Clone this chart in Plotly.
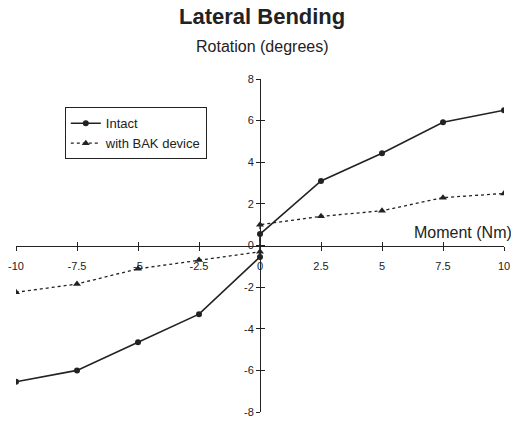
import plotly.graph_objects as go

moment = [-10, -7.5, -5, -2.5, 0, 0, 2.5, 5, 7.5, 10]
intact = [-6.55, -6.0, -4.65, -3.3, -0.55, 0.55, 3.1, 4.43, 5.92, 6.5]
bak = [-2.25, -1.85, -1.12, -0.7, -0.3, 1.0, 1.4, 1.67, 2.3, 2.5]
x_ticks = [-10, -7.5, -5, -2.5, 0, 2.5, 5, 7.5, 10]
y_ticks = [-8, -6, -4, -2, 0, 2, 4, 6, 8]

FONT = "Liberation Sans, Arial, Helvetica, sans-serif"
INK = "#222222"

fig = go.Figure()
fig.add_trace(go.Scatter(
    x=moment, y=intact, name="Intact", mode="lines+markers",
    line=dict(color=INK, width=1.6),
    marker=dict(symbol="circle", size=6, color=INK),
))
fig.add_trace(go.Scatter(
    x=moment, y=bak, name="with BAK device", mode="lines+markers",
    line=dict(color=INK, width=1.3, dash="3px,3px"),
    marker=dict(symbol="triangle-up", size=7, color=INK),
))
# invisible trace to host the inside ticks on the secondary axes
fig.add_trace(go.Scatter(x=[0], y=[0], xaxis="x2", yaxis="y2",
                         mode="markers", marker=dict(opacity=0),
                         showlegend=False, hoverinfo="skip"))

axis_common = dict(showgrid=False, zeroline=False, showline=True,
                   linecolor=INK, linewidth=1, ticks="outside", ticklen=4,
                   tickwidth=1, tickcolor=INK, automargin=False,
                   tickfont=dict(family=FONT, size=11, color=INK))

fig.update_layout(
    width=511, height=423,
    margin=dict(l=16, r=7, t=79, b=11, autoexpand=False),
    paper_bgcolor="white", plot_bgcolor="white",
    font=dict(family=FONT, color=INK),
    xaxis=dict(range=[-10, 10], tickvals=x_ticks,
               ticktext=[f"{v:g}" for v in x_ticks],
               anchor="free", position=0.5, domain=[0, 1],
               ticklabelstandoff=6,
               **axis_common),
    yaxis=dict(range=[-8, 8], tickvals=y_ticks,
               ticktext=[f"{v:g}" for v in y_ticks],
               anchor="free", position=0.5, domain=[0, 1],
               **axis_common),
    xaxis2=dict(range=[-10, 10], tickvals=x_ticks, showticklabels=False,
                overlaying="x", anchor="free", position=0.5,
                showgrid=False, zeroline=False, showline=False,
                ticks="inside", ticklen=4, tickcolor=INK),
    yaxis2=dict(range=[-8, 8], tickvals=y_ticks, showticklabels=False,
                overlaying="y", anchor="free", position=0.5,
                showgrid=False, zeroline=False, showline=False,
                ticks="inside", ticklen=4, tickcolor=INK),
    legend=dict(x=0.1, y=0.915, xanchor="left", yanchor="top",
                bgcolor="white", bordercolor=INK, borderwidth=1,
                font=dict(family=FONT, size=13, color=INK),
                tracegroupgap=0, itemwidth=30),
    annotations=[
        dict(text="<b>Lateral Bending</b>", xref="paper", yref="paper",
             x=0.505, y=(423 - 11 - 17) / 333, xanchor="center", yanchor="middle",
             showarrow=False, font=dict(family=FONT, size=22, color=INK)),
        dict(text="Rotation (degrees)", xref="paper", yref="paper",
             x=0.505, y=(423 - 11 - 47) / 333, xanchor="center", yanchor="middle",
             showarrow=False, font=dict(family=FONT, size=16, color=INK)),
        dict(text="Moment (Nm)", xref="paper", yref="paper",
             x=1.02, y=0.5 + 13 / 333, xanchor="right", yanchor="middle",
             showarrow=False, font=dict(family=FONT, size=16, color=INK)),
    ],
)

fig.write_html("out.html")
